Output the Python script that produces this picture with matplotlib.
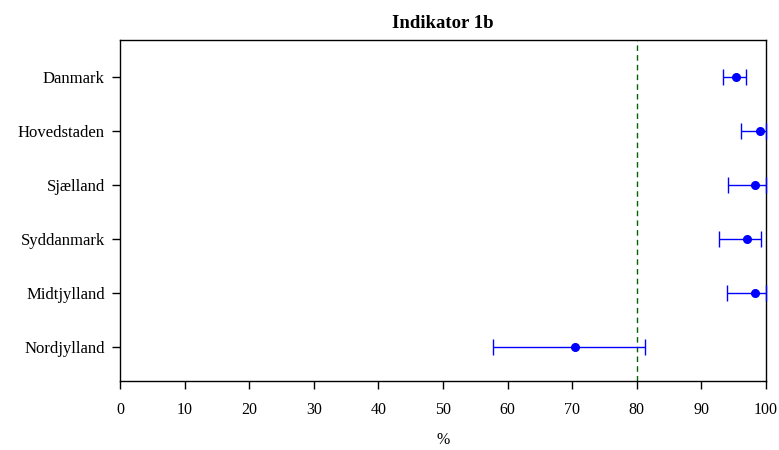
import matplotlib.pyplot as plt
import numpy as np

plt.rcParams['font.family'] = ['Liberation Serif', 'DejaVu Serif']

# data
regions = ["Danmark", "Hovedstaden", "Sjælland", "Syddanmark", "Midtjylland", "Nordjylland"]
estimate = [95.3, 99.0, 98.3, 97.1, 98.3, 70.5]
lower = [93.3, 96.1, 94.1, 92.7, 93.9, 57.7]
upper = [96.9, 100.0, 100.0, 99.3, 100.0, 81.3]
target = 80
xticks = [0, 10, 20, 30, 40, 50, 60, 70, 80, 90, 100]

y = np.arange(len(regions))
est = np.array(estimate)
err = np.vstack([est - np.array(lower), np.array(upper) - est])

fig = plt.figure(figsize=(7.79, 4.5), dpi=100)
ax = fig.add_axes([120/779, 1 - 381/450, (766 - 120)/779, (381 - 40)/450])

ax.axvline(target, color='#006400', linestyle=(0, (4, 3)), linewidth=1)
ax.errorbar(est, y, xerr=err, fmt='o', color='blue', ecolor='blue',
            markersize=5.5, capsize=6, elinewidth=1, capthick=1, clip_on=False, zorder=3)

ax.set_xlim(0, 100)
ax.set_ylim(len(regions) - 1 + 0.63, -0.685)
ax.set_xticks(xticks)
ax.set_yticks(y)
ax.set_yticklabels(regions)
ax.tick_params(length=6, width=1, direction='out')
ax.tick_params(axis='x', labelsize=11.5, pad=9)
ax.tick_params(axis='y', labelsize=12, pad=5)
for s in ax.spines.values():
    s.set_linewidth(1)
ax.set_xlabel('%', fontsize=11.5, labelpad=10)
ax.set_title('Indikator 1b', fontsize=13.5, fontweight='bold', pad=9)

fig.savefig('out.png', dpi=100)
